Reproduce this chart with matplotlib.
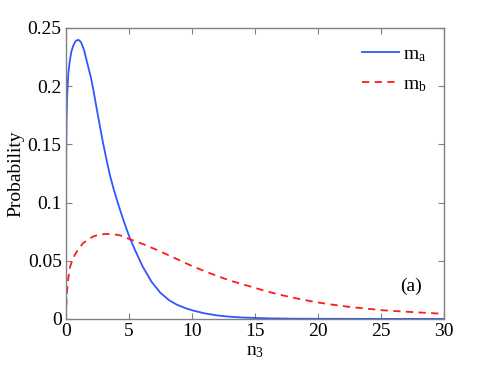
import numpy as np
import matplotlib
matplotlib.use("Agg")
from matplotlib import pyplot as plt

# values
n3_a = [0, 0.01, 0.03, 0.06, 0.1, 0.2, 0.32, 0.45, 0.6, 0.8, 1.0, 1.2, 1.45, 1.7,
        2.0, 2.2, 2.43, 2.7, 2.96, 3.2, 3.49, 3.8, 4.15, 4.4, 4.68, 5.08, 5.48, 6.1,
        6.8, 7.5, 8.2, 8.8, 9.5, 10.1, 11.0, 12.0, 13.0, 14.0, 16.0, 18.0, 20.0, 25.0, 30.0]
p_a = [0, 0.09, 0.14, 0.17, 0.19, 0.211, 0.222, 0.23, 0.235, 0.239, 0.2398, 0.238, 0.231, 0.220,
       0.207, 0.196, 0.182, 0.166, 0.151, 0.1385, 0.124, 0.1115, 0.099, 0.0905, 0.0815, 0.0695, 0.0595, 0.045,
       0.032, 0.0225, 0.016, 0.0123, 0.0092, 0.0072, 0.0048, 0.003, 0.0019, 0.0012, 0.0005, 0.0002, 0.0001, 0.00001, 0]

n3_b = [0, 0.03, 0.06, 0.1, 0.2, 0.32, 0.5, 0.71, 1.0, 1.37, 1.8, 2.2, 2.7, 3.2, 3.8, 4.3,
        5.2, 6.2, 7.5, 8.8, 10.1, 11.5, 13.0, 14.6, 16.0, 17.3, 18.6, 19.9, 21.2, 22.5,
        23.9, 25.2, 26.5, 27.8, 29.0, 30.0]
p_b = [0, 0.009, 0.016, 0.024, 0.035, 0.044, 0.050, 0.055, 0.060, 0.065, 0.0685, 0.071, 0.0725, 0.073, 0.0727, 0.0718,
       0.068, 0.064, 0.058, 0.0515, 0.045, 0.039, 0.033, 0.028, 0.0235, 0.020, 0.017, 0.0143, 0.0122, 0.0103,
       0.0088, 0.0074, 0.0065, 0.0057, 0.005, 0.0043]

xticks = [0, 5, 10, 15, 20, 25, 30]
yticks = [0, 0.05, 0.1, 0.15, 0.2, 0.25]
ytick_labels = ["0", "0.05", "0.1", "0.15", "0.2", "0.25"]

plt.rcParams['font.family'] = ['Liberation Serif', 'DejaVu Serif']
plt.rcParams['mathtext.fontset'] = 'custom'
plt.rcParams['mathtext.rm'] = 'Liberation Serif'
plt.rcParams['mathtext.it'] = 'Liberation Serif'

fig = plt.figure(figsize=(4.91, 3.73), dpi=100)
ax = fig.add_axes([0.134, 0.145, 0.770, 0.780])

ax.plot(n3_a, p_a, color="#3355ff", lw=1.3, label=r"$\mathrm{m_a}$")
ax.plot(n3_b, p_b, color="#ff1a1a", lw=1.3, ls=(0, (4, 3)), label=r"$\mathrm{m_b}$")

ax.set_xlim(0, 30)
ax.set_ylim(0, 0.25)
ax.set_xticks(xticks)
ax.set_yticks(yticks)
ax.set_yticklabels(ytick_labels)
ax.tick_params(direction="in", length=4, color="#808080", labelsize=14,
               top=True, right=True, pad=3)
for s in ax.spines.values():
    s.set_color("#808080")
    s.set_linewidth(1.0)

ax.set_xlabel(r"$\mathrm{n_3}$", fontsize=14, labelpad=2)
ax.set_ylabel("Probability", fontsize=14, labelpad=2)

ax.text(0.884, 0.111, "(a)", transform=ax.transAxes, fontsize=14, va="center")

ax.legend(loc="upper right", frameon=False, fontsize=14, handlelength=1.9,
          handletextpad=0.2, labelspacing=0.6, borderaxespad=0.5)

plt.savefig("out.png", dpi=100)
